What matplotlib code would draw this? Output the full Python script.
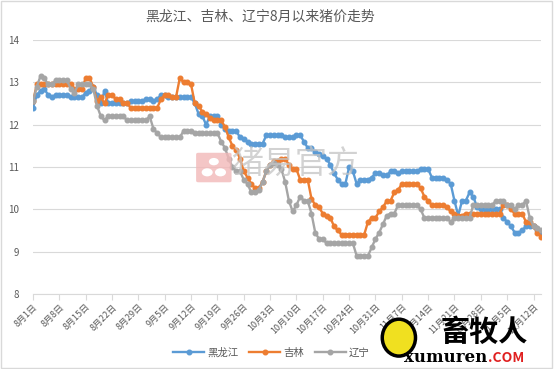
import numpy as np
import matplotlib
matplotlib.use("Agg")
import matplotlib.pyplot as plt
from matplotlib.patches import Rectangle, FancyBboxPatch, Ellipse

plt.rcParams['font.family'] = ['Noto Sans CJK SC', 'DejaVu Sans']

# 每日猪价（8月1日起）
heilongjiang = [
    12.4, 12.7, 12.8, 12.85, 12.7, 12.65, 12.7, 12.7, 12.7, 12.7,
    12.65, 12.65, 12.65, 12.65, 12.75, 12.8, 12.9, 12.7, 12.5, 12.8,
    12.5, 12.5, 12.5, 12.5, 12.5, 12.5, 12.55, 12.55, 12.55, 12.55,
    12.6, 12.6, 12.55, 12.6, 12.7, 12.7, 12.65, 12.65, 12.65, 12.65,
    12.65, 12.65, 12.65, 12.5, 12.25, 12.2, 12.0, 12.2, 12.2, 12.2,
    12.0, 11.9, 11.85, 11.85, 11.85, 11.7, 11.65, 11.6, 11.55, 11.55,
    11.55, 11.55, 11.75, 11.75, 11.75, 11.75, 11.75, 11.7, 11.7, 11.7,
    11.75, 11.75, 11.6, 11.45, 11.45, 11.35, 11.3, 11.25, 11.2, 11.05,
    10.85, 10.7, 10.6, 10.6, 11.0, 10.9, 10.6, 10.7, 10.7, 10.7,
    10.75, 10.85, 10.85, 10.8, 10.8, 10.9, 10.9, 10.85, 10.9, 10.9,
    10.9, 10.9, 10.9, 10.95, 10.95, 10.95, 10.75, 10.75, 10.75, 10.75,
    10.7, 10.6, 10.2, 9.85, 10.2, 10.2, 10.4, 10.3, 10.05, 10.0,
    10.0, 10.0, 10.0, 10.0, 10.0, 9.8, 9.7, 9.6, 9.45, 9.45,
    9.5, 9.6, 9.6, 9.6, 9.5, 9.45,
]
jilin = [
    12.55, 12.95, 12.95, 12.95, 12.95, 12.95, 12.95, 12.95, 12.95, 12.95,
    12.95, 12.85, 12.85, 12.85, 13.1, 13.1, 12.9, 12.55, 12.65, 12.5,
    12.7, 12.7, 12.6, 12.6, 12.5, 12.5, 12.4, 12.4, 12.4, 12.4,
    12.4, 12.4, 12.4, 12.4, 12.6, 12.7, 12.7, 12.65, 12.65, 13.1,
    13.0, 13.0, 12.95, 12.5, 12.45, 12.3, 12.25, 12.15, 12.1, 12.1,
    12.1, 11.95, 11.7, 11.5, 11.4, 11.2, 10.9, 10.75, 10.6, 10.5,
    10.5, 10.65, 10.9, 11.05, 11.15, 11.15, 11.2, 11.2, 11.05, 10.95,
    10.95, 10.7, 10.7, 10.7, 10.25, 10.1, 10.05, 9.9, 9.85, 9.8,
    9.6, 9.5, 9.4, 9.4, 9.4, 9.4, 9.4, 9.4, 9.4, 9.7,
    9.8, 9.8, 9.95, 10.05, 10.2, 10.2, 10.4, 10.45, 10.6, 10.6,
    10.6, 10.6, 10.6, 10.5, 10.3, 10.2, 10.1, 10.1, 10.1, 10.1,
    10.05, 9.95, 9.9, 9.85, 9.85, 9.9, 9.9, 9.9, 9.9, 9.9,
    9.9, 9.9, 9.9, 9.9, 9.9, 10.1, 10.1, 10.0, 9.9, 9.9,
    9.9, 9.7, 9.7, 9.6, 9.45, 9.35,
]
liaoning = [
    12.55, 12.9, 13.15, 13.1, 12.95, 12.95, 13.05, 13.05, 13.05, 13.05,
    12.85, 12.75, 12.95, 12.95, 12.95, 12.95, 12.85, 12.45, 12.2, 12.1,
    12.2, 12.2, 12.2, 12.2, 12.2, 12.1, 12.1, 12.1, 12.1, 12.1,
    12.1, 12.2, 11.9, 11.8, 11.7, 11.7, 11.7, 11.7, 11.7, 11.7,
    11.85, 11.85, 11.85, 11.8, 11.8, 11.8, 11.8, 11.8, 11.8, 11.8,
    11.6, 11.45, 11.2, 11.0, 10.9, 10.9, 10.7, 10.6, 10.4, 10.4,
    10.45, 10.65, 10.9, 11.05, 11.1, 11.05, 10.95, 10.65, 10.2, 9.95,
    10.1, 10.3, 10.2, 10.2, 9.9, 9.45, 9.3, 9.3, 9.2, 9.2,
    9.2, 9.2, 9.2, 9.2, 9.2, 9.2, 8.9, 8.9, 8.9, 8.9,
    9.1, 9.3, 9.45, 9.65, 9.85, 9.9, 9.9, 10.1, 10.1, 10.1,
    10.1, 10.1, 10.1, 10.0, 9.8, 9.8, 9.8, 9.8, 9.8, 9.8,
    9.8, 9.7, 9.8, 9.8, 9.8, 9.8, 9.8, 10.1, 10.1, 10.1,
    10.1, 10.1, 10.1, 10.2, 10.2, 10.2, 10.1, 10.1, 10.0, 10.1,
    10.1, 10.2, 9.8, 9.6, 9.55, 9.5,
]
series_names = ['黑龙江', '吉林', '辽宁']
tick_labels = ['8月1日', '8月8日', '8月15日', '8月22日', '8月29日', '9月5日',
               '9月12日', '9月19日', '9月26日', '10月3日', '10月10日', '10月17日',
               '10月24日', '10月31日', '11月7日', '11月14日', '11月21日',
               '11月28日', '12月5日', '12月12日']

colors = ['#5B9BD5', '#ED7D31', '#A5A5A5']
txt = '#595959'

fig = plt.figure(figsize=(5.54, 3.69), dpi=100)
fig.patches.append(Rectangle((0.002, 0.003), 0.995, 0.993, transform=fig.transFigure,
                             fill=False, edgecolor='#d9d9d9', linewidth=1))
ax = fig.add_axes([0.0596, 0.2033, 0.917, 0.6883])

# watermark behind the lines
fig.patches.append(FancyBboxPatch((0.358, 0.51), 0.056, 0.072, boxstyle='round,pad=0.004',
                                  transform=fig.transFigure, facecolor='#f2b8b8',
                                  edgecolor='none', alpha=0.8, zorder=0))
for cx in (0.374, 0.398):
    fig.patches.append(Ellipse((cx, 0.533), 0.02, 0.022, transform=fig.transFigure,
                               facecolor='white', edgecolor='none', zorder=0.1))
fig.patches.append(Ellipse((0.386, 0.562), 0.018, 0.02, transform=fig.transFigure,
                           facecolor='white', edgecolor='none', zorder=0.1))
fig.text(0.418, 0.556, '猪易官方', ha='left', va='center', fontsize=23,
         color='#c4c4c4', alpha=0.75, zorder=0.2)

days = np.arange(len(heilongjiang))
for vals, name, c in zip([heilongjiang, jilin, liaoning], series_names, colors):
    ax.plot(days, vals, color=c, lw=1.7, marker='o', ms=3.3, mec=c, mfc=c, label=name)
ax.patch.set_alpha(0)

ax.set_xlim(0, 135)
ax.set_ylim(8, 14)
ax.set_yticks(range(8, 15))
ax.set_xticks(np.arange(0, 7 * len(tick_labels), 7))
ax.set_xticklabels(tick_labels, rotation=45, ha='right', rotation_mode='anchor',
                   fontsize=6.5, color=txt)
ax.tick_params(axis='y', length=0, labelsize=7, colors=txt, pad=10)
ax.tick_params(axis='x', length=4, color='#d9d9d9', direction='out', pad=2)
ax.grid(axis='y', color='#d9d9d9', lw=0.8)
ax.set_axisbelow(True)
for s in ['top', 'right', 'left']:
    ax.spines[s].set_visible(False)
ax.spines['bottom'].set_color('#d9d9d9')

fig.text(0.47, 0.955, '黑龙江、吉林、辽宁8月以来猪价走势', ha='center', va='center',
         fontsize=10, color=txt)

# 畜牧人 logo
fig.patches.append(Ellipse((0.72, 0.085), 0.06, 0.1, transform=fig.transFigure,
                           facecolor='#f0e020', edgecolor='black', linewidth=2.5))
fig.text(0.875, 0.1, '畜牧人', ha='center', va='center', fontsize=21,
         color='black', weight='bold')
fig.text(0.88, 0.03, 'xumuren', ha='right', va='center', fontsize=12,
         color='black', weight='bold', family=['DejaVu Serif'])
fig.text(0.88, 0.03, '.COM', ha='left', va='center', fontsize=10,
         color='#e02020', weight='bold')

fig.legend(loc='center', bbox_to_anchor=(0.49, 0.045), ncol=3, frameon=False,
           fontsize=7.5, labelcolor=txt, handlelength=3, columnspacing=1.0,
           handletextpad=0.3)

fig.savefig('out.png', dpi=100)
